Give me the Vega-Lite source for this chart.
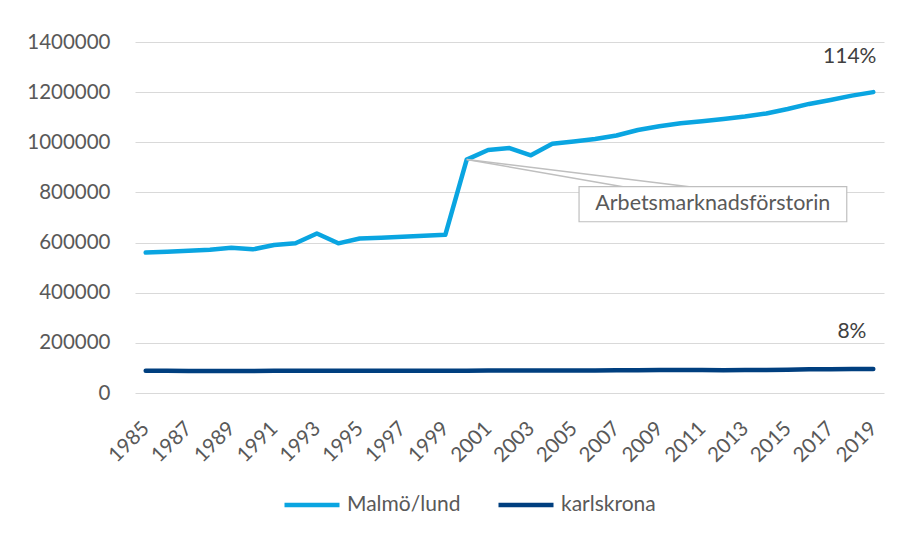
{
  "$schema": "https://vega.github.io/schema/vega-lite/v6.json",
  "width": 749,
  "height": 351,
  "autosize": {"type": "none"},
  "padding": {"left": 135, "top": 42, "right": 25, "bottom": 141},
  "background": "white",
  "config": {
    "view": {"stroke": null},
    "font": "Lato",
    "text": {"font": "Lato"}
  },
  "datasets": {
    "series": [
      {"year": 1985, "series": "Malmö/lund", "value": 560000},
      {"year": 1986, "series": "Malmö/lund", "value": 563000},
      {"year": 1987, "series": "Malmö/lund", "value": 567000},
      {"year": 1988, "series": "Malmö/lund", "value": 571000},
      {"year": 1989, "series": "Malmö/lund", "value": 579000},
      {"year": 1990, "series": "Malmö/lund", "value": 573000},
      {"year": 1991, "series": "Malmö/lund", "value": 590000},
      {"year": 1992, "series": "Malmö/lund", "value": 597000},
      {"year": 1993, "series": "Malmö/lund", "value": 636000},
      {"year": 1994, "series": "Malmö/lund", "value": 597000},
      {"year": 1995, "series": "Malmö/lund", "value": 616000},
      {"year": 1996, "series": "Malmö/lund", "value": 619000},
      {"year": 1997, "series": "Malmö/lund", "value": 623000},
      {"year": 1998, "series": "Malmö/lund", "value": 627000},
      {"year": 1999, "series": "Malmö/lund", "value": 631000},
      {"year": 2000, "series": "Malmö/lund", "value": 931000},
      {"year": 2001, "series": "Malmö/lund", "value": 969000},
      {"year": 2002, "series": "Malmö/lund", "value": 977000},
      {"year": 2003, "series": "Malmö/lund", "value": 948000},
      {"year": 2004, "series": "Malmö/lund", "value": 994000},
      {"year": 2005, "series": "Malmö/lund", "value": 1003000},
      {"year": 2006, "series": "Malmö/lund", "value": 1013000},
      {"year": 2007, "series": "Malmö/lund", "value": 1027000},
      {"year": 2008, "series": "Malmö/lund", "value": 1049000},
      {"year": 2009, "series": "Malmö/lund", "value": 1064000},
      {"year": 2010, "series": "Malmö/lund", "value": 1076000},
      {"year": 2011, "series": "Malmö/lund", "value": 1084000},
      {"year": 2012, "series": "Malmö/lund", "value": 1093000},
      {"year": 2013, "series": "Malmö/lund", "value": 1103000},
      {"year": 2014, "series": "Malmö/lund", "value": 1115000},
      {"year": 2015, "series": "Malmö/lund", "value": 1133000},
      {"year": 2016, "series": "Malmö/lund", "value": 1153000},
      {"year": 2017, "series": "Malmö/lund", "value": 1169000},
      {"year": 2018, "series": "Malmö/lund", "value": 1186000},
      {"year": 2019, "series": "Malmö/lund", "value": 1200000},
      {"year": 1985, "series": "karlskrona", "value": 88500},
      {"year": 1986, "series": "karlskrona", "value": 88300},
      {"year": 1987, "series": "karlskrona", "value": 87800},
      {"year": 1988, "series": "karlskrona", "value": 87600},
      {"year": 1989, "series": "karlskrona", "value": 87700},
      {"year": 1990, "series": "karlskrona", "value": 88000},
      {"year": 1991, "series": "karlskrona", "value": 88300},
      {"year": 1992, "series": "karlskrona", "value": 88400},
      {"year": 1993, "series": "karlskrona", "value": 88500},
      {"year": 1994, "series": "karlskrona", "value": 88700},
      {"year": 1995, "series": "karlskrona", "value": 89000},
      {"year": 1996, "series": "karlskrona", "value": 89000},
      {"year": 1997, "series": "karlskrona", "value": 89000},
      {"year": 1998, "series": "karlskrona", "value": 89000},
      {"year": 1999, "series": "karlskrona", "value": 89100},
      {"year": 2000, "series": "karlskrona", "value": 89200},
      {"year": 2001, "series": "karlskrona", "value": 89300},
      {"year": 2002, "series": "karlskrona", "value": 89400},
      {"year": 2003, "series": "karlskrona", "value": 89400},
      {"year": 2004, "series": "karlskrona", "value": 89500},
      {"year": 2005, "series": "karlskrona", "value": 89600},
      {"year": 2006, "series": "karlskrona", "value": 90000},
      {"year": 2007, "series": "karlskrona", "value": 90500},
      {"year": 2008, "series": "karlskrona", "value": 91000},
      {"year": 2009, "series": "karlskrona", "value": 91300},
      {"year": 2010, "series": "karlskrona", "value": 91500},
      {"year": 2011, "series": "karlskrona", "value": 91400},
      {"year": 2012, "series": "karlskrona", "value": 91000},
      {"year": 2013, "series": "karlskrona", "value": 91300},
      {"year": 2014, "series": "karlskrona", "value": 91800},
      {"year": 2015, "series": "karlskrona", "value": 93000},
      {"year": 2016, "series": "karlskrona", "value": 94500},
      {"year": 2017, "series": "karlskrona", "value": 95000},
      {"year": 2018, "series": "karlskrona", "value": 95300},
      {"year": 2019, "series": "karlskrona", "value": 95500}
    ],
    "leaders": [
      {"x1": 2000, "y1": 931000, "x2": 2007.3, "y2": 823000},
      {"x1": 2000, "y1": 931000, "x2": 2010.4, "y2": 823000}
    ],
    "box": [
      {"x1": 2005.25, "x2": 2017.76, "y1": 683000, "y2": 823000, "label": "Arbetsmarknadsförstorin", "lx": 2011.5, "ly": 753000}
    ],
    "pct": [
      {"label": "114%", "year": 2017.9, "value": 1341000},
      {"label": "8%", "year": 2018.0, "value": 243000}
    ]
  },
  "layer": [
    {
      "data": {"name": "series"},
      "mark": {"type": "line", "strokeWidth": 4.5, "strokeCap": "round", "strokeJoin": "round"},
      "encoding": {
        "x": {
          "field": "year", "type": "quantitative",
          "scale": {"domain": [1984.5, 2019.5], "nice": false, "zero": false},
          "axis": {
            "title": null, "grid": false, "domain": false, "ticks": false, "tickSize": 0,
            "values": [1985,1987,1989,1991,1993,1995,1997,1999,2001,2003,2005,2007,2009,2011,2013,2015,2017,2019],
            "format": "d", "labelAngle": -45, "labelAlign": "right", "labelBaseline": "middle",
            "labelPadding": 32, "labelDx": 6, "labelFont": "Lato", "labelFontSize": 20.5, "labelColor": "#595959",
            "labelOverlap": false
          }
        },
        "y": {
          "field": "value", "type": "quantitative",
          "scale": {"domain": [0, 1400000], "nice": false},
          "axis": {
            "title": null, "domain": false, "ticks": false, "tickSize": 0,
            "values": [0,200000,400000,600000,800000,1000000,1200000,1400000],
            "format": "d", "labelPadding": 25, "labelFont": "Lato", "labelFontSize": 20.5,
            "labelColor": "#595959", "gridColor": "#d9d9d9", "gridWidth": 1.2
          }
        },
        "color": {
          "field": "series", "type": "nominal",
          "scale": {"domain": ["Malmö/lund", "karlskrona"], "range": ["#0AA5E1", "#003F7F"]},
          "legend": {
            "title": null, "orient": "none", "direction": "horizontal",
            "legendX": 147, "legendY": 433,
            "symbolType": "stroke", "symbolSize": 3025, "symbolStrokeWidth": 4.5,
            "labelFont": "Lato", "labelFontSize": 21, "labelColor": "#595959",
            "labelOffset": 5, "columnPadding": 28
          }
        }
      }
    },
    {
      "data": {"name": "leaders"},
      "mark": {"type": "rule", "color": "#bfbfbf", "strokeWidth": 1.5},
      "encoding": {
        "x": {"field": "x1", "type": "quantitative"},
        "y": {"field": "y1", "type": "quantitative"},
        "x2": {"field": "x2"},
        "y2": {"field": "y2"}
      }
    },
    {
      "data": {"name": "box"},
      "mark": {"type": "rect", "fill": "white", "stroke": "#bfbfbf", "strokeWidth": 1.2},
      "encoding": {
        "x": {"field": "x1", "type": "quantitative"},
        "x2": {"field": "x2"},
        "y": {"field": "y1", "type": "quantitative"},
        "y2": {"field": "y2"}
      }
    },
    {
      "data": {"name": "box"},
      "mark": {"type": "text", "font": "Lato", "fontSize": 21.5, "color": "#595959", "align": "center", "baseline": "middle"},
      "encoding": {
        "x": {"field": "lx", "type": "quantitative"},
        "y": {"field": "ly", "type": "quantitative"},
        "text": {"field": "label"}
      }
    },
    {
      "data": {"name": "pct"},
      "mark": {"type": "text", "font": "Lato", "fontSize": 21, "color": "#404040", "align": "center", "baseline": "middle"},
      "encoding": {
        "x": {"field": "year", "type": "quantitative"},
        "y": {"field": "value", "type": "quantitative"},
        "text": {"field": "label"}
      }
    }
  ]
}
